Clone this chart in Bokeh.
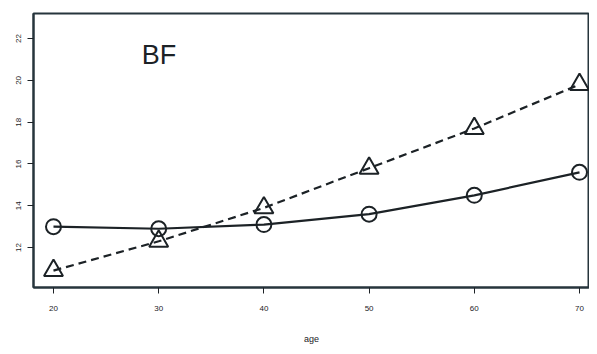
from bokeh.plotting import figure
from bokeh.models import Range1d, FixedTicker, Label
from bokeh.embed import file_html
from bokeh.resources import INLINE

# data
age = [20, 30, 40, 50, 60, 70]
circle_series = [13.0, 12.9, 13.1, 13.6, 14.5, 15.6]
triangle_series = [10.9, 12.3, 13.9, 15.8, 17.7, 19.8]
x_ticks = [20, 30, 40, 50, 60, 70]
y_ticks = [12, 14, 16, 18, 20, 22]
title_text = "BF"
x_label = "age"

ink = "#1c2226"

p = figure(width=589, height=346, output_backend="svg", toolbar_location=None,
           x_range=Range1d(18.1, 70.95), y_range=Range1d(10.09, 23.2),
           min_border_left=33, min_border_right=0, min_border_top=13,
           min_border_bottom=59)
p.background_fill_color = "white"
p.border_fill_color = "white"
p.outline_line_color = "#26353c"
p.outline_line_width = 2
p.grid.visible = False

for ax in (p.xaxis[0], p.yaxis[0]):
    ax.axis_line_color = "#26353c"
    ax.axis_line_width = 2
    ax.major_tick_line_color = ink
    ax.major_tick_in = 0
    ax.major_tick_out = 6
    ax.minor_tick_line_color = None
    ax.major_label_text_font = "Liberation Sans"
    ax.major_label_text_font_size = "8px"
    ax.major_label_text_color = ink

p.xaxis.ticker = FixedTicker(ticks=x_ticks)
p.yaxis.ticker = FixedTicker(ticks=y_ticks)
p.xaxis.major_label_standoff = 12
p.yaxis.major_label_standoff = 6
p.yaxis.major_label_orientation = "vertical"
p.xaxis.axis_label = x_label
p.xaxis.axis_label_text_font = "Liberation Sans"
p.xaxis.axis_label_text_font_style = "normal"
p.xaxis.axis_label_text_font_size = "9px"
p.xaxis.axis_label_text_color = ink
p.xaxis.axis_label_standoff = 20

p.line(age, circle_series, line_color=ink, line_width=2.2)
p.scatter(age, circle_series, marker="circle", size=15, fill_color="white",
          fill_alpha=0, line_color=ink, line_width=2)
p.line(age, triangle_series, line_color=ink, line_width=2.2, line_dash="8 5")
p.scatter(age, triangle_series, marker="triangle", size=19, fill_alpha=0,
          line_color=ink, line_width=2)

p.add_layout(Label(x=28.4, y=21.23, text=title_text, text_font="Liberation Sans",
                   text_font_size="27px", text_color=ink, text_align="left",
                   text_baseline="alphabetic"))

open("out.html", "w").write(file_html(p, INLINE))
